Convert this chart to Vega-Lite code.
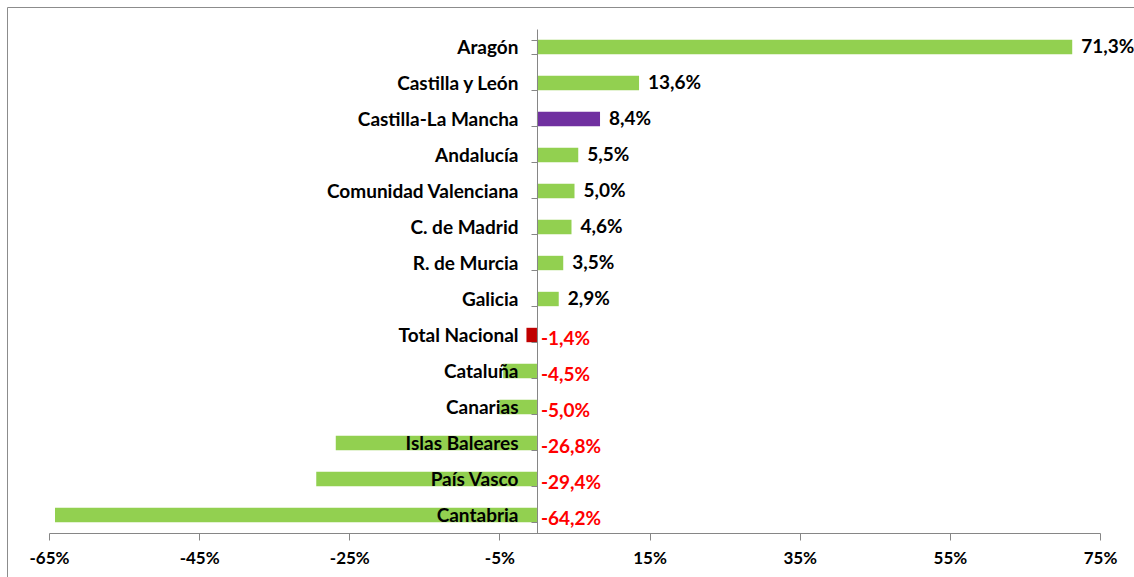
{
  "$schema": "https://vega.github.io/schema/vega-lite/v6.json",
  "width": 1127,
  "height": 570,
  "autosize": {"type": "none"},
  "padding": {"left": 7, "top": 7, "right": 0, "bottom": 0},
  "background": "white",
  "config": {
    "locale": {"number": {"decimal": ",", "thousands": ".", "grouping": [3], "currency": ["", " €"], "minus": "-"}},
    "view": {"stroke": "#8c8c8c", "strokeWidth": 1},
    "font": "Lato"
  },
  "data": {
    "values": [
      {"region": "Aragón", "value": 0.713},
      {"region": "Castilla y León", "value": 0.136},
      {"region": "Castilla-La Mancha", "value": 0.084},
      {"region": "Andalucía", "value": 0.055},
      {"region": "Comunidad Valenciana", "value": 0.05},
      {"region": "C. de Madrid", "value": 0.046},
      {"region": "R. de Murcia", "value": 0.035},
      {"region": "Galicia", "value": 0.029},
      {"region": "Total Nacional", "value": -0.014},
      {"region": "Cataluña", "value": -0.045},
      {"region": "Canarias", "value": -0.05},
      {"region": "Islas Baleares", "value": -0.268},
      {"region": "País Vasco", "value": -0.294},
      {"region": "Cantabria", "value": -0.642}
    ]
  },
  "encoding": {
    "y": {
      "field": "region",
      "type": "nominal",
      "sort": null,
      "scale": {"range": [22, 526], "paddingInner": 0.6, "paddingOuter": 0.3},
      "axis": {
        "title": null,
        "offset": -530,
        "domainColor": "#868686",
        "tickColor": "#868686",
        "tickSize": 6,
        "tickBand": "extent",
        "labelFont": "Lato",
        "labelFontSize": 19,
        "labelFontWeight": "bold",
        "labelColor": "#000000",
        "labelPadding": 13,
        "labelLimit": 500,
        "labelOverlap": false,
        "zindex": 1
      }
    }
  },
  "layer": [
    {
      "mark": {"type": "bar"},
      "encoding": {
        "x": {
          "field": "value",
          "type": "quantitative",
          "scale": {"domain": [-0.65, 0.75], "range": [42, 1093], "nice": false, "zero": false},
          "axis": {
            "title": null,
            "values": [-0.65, -0.45, -0.25, -0.05, 0.15, 0.35, 0.55, 0.75],
            "format": ".0%",
            "offset": -44,
            "grid": false,
            "domainColor": "#868686",
            "tickColor": "#868686",
            "tickSize": 7,
            "labelFont": "Lato",
            "labelFontSize": 17,
            "labelFontWeight": "bold",
            "labelColor": "#000000",
            "labelPadding": 10,
            "labelFlush": false,
            "labelOverlap": false
          }
        },
        "x2": {"datum": 0},
        "color": {
          "condition": [
            {"test": "datum.region === 'Castilla-La Mancha'", "value": "#7030A0"},
            {"test": "datum.region === 'Total Nacional'", "value": "#C00000"}
          ],
          "value": "#92D050"
        }
      }
    },
    {
      "transform": [{"filter": "datum.value >= 0"}],
      "mark": {"type": "text", "align": "left", "baseline": "middle", "dx": 9, "font": "Lato", "fontSize": 19, "fontWeight": "bold"},
      "encoding": {
        "x": {"field": "value", "type": "quantitative"},
        "text": {"field": "value", "type": "quantitative", "format": ".1%"},
        "color": {"value": "#000000"}
      }
    },
    {
      "transform": [{"filter": "datum.value < 0"}],
      "mark": {"type": "text", "align": "left", "baseline": "middle", "dx": 4, "dy": 4, "font": "Lato", "fontSize": 19, "fontWeight": "bold"},
      "encoding": {
        "x": {"datum": 0, "type": "quantitative"},
        "text": {"field": "value", "type": "quantitative", "format": ".1%"},
        "color": {"value": "#FF0000"}
      }
    }
  ]
}
